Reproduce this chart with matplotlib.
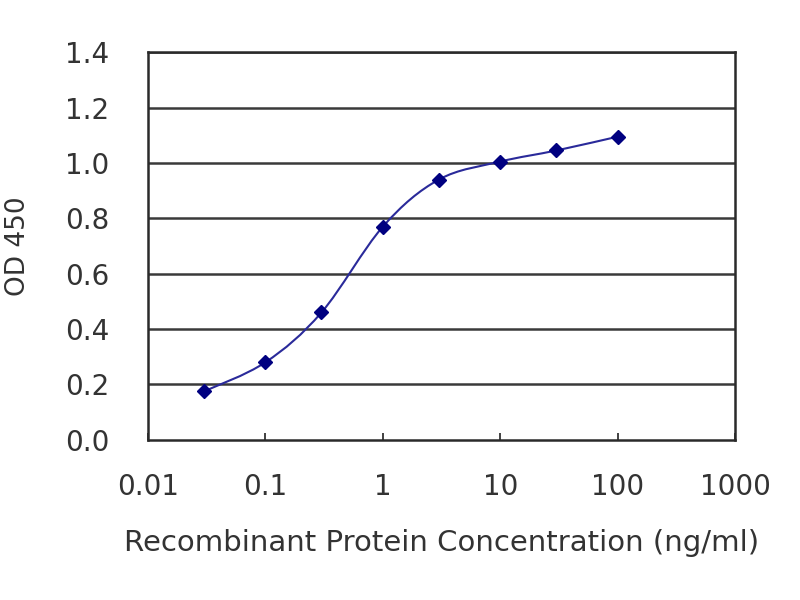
import numpy as np
import matplotlib.pyplot as plt
from matplotlib.path import Path
from matplotlib.patches import PathPatch
from matplotlib.ticker import FixedLocator, FixedFormatter, NullLocator

conc = np.array([0.03, 0.1, 0.3, 1.0, 3.0, 10.0, 30.0, 100.0])
od = np.array([0.175, 0.28, 0.46, 0.77, 0.94, 1.005, 1.045, 1.095])

x_ticks = [0.01, 0.1, 1, 10, 100, 1000]
x_labels = ["0.01", "0.1", "1", "10", "100", "1000"]
y_ticks = [0.0, 0.2, 0.4, 0.6, 0.8, 1.0, 1.2, 1.4]
y_labels = [f"{v:.1f}" for v in y_ticks]

text_col = '#333333'
plt.rcParams['font.family'] = ['DejaVu Sans']


def smooth_path(x, y):
    # catmull-rom through the points (in log x), turned into bezier segments
    lx = np.log10(x)
    p = np.column_stack([lx, y])
    pts = np.vstack([p[0], p, p[-1]])
    verts = [p[0]]
    codes = [Path.MOVETO]
    for i in range(1, len(pts) - 2):
        p0, p1, p2, p3 = pts[i - 1], pts[i], pts[i + 1], pts[i + 2]
        c1 = p1 + (p2 - p0) / 6.0
        c2 = p2 - (p3 - p1) / 6.0
        verts += [c1, c2, p2]
        codes += [Path.CURVE4] * 3
    verts = np.array(verts)
    verts[:, 0] = 10 ** verts[:, 0]
    return Path(verts, codes)


fig = plt.figure(figsize=(8, 6), dpi=100)
ax = fig.add_axes([0.185, 0.267, 0.734, 0.646])

ax.set_xscale('log')
ax.set_xlim(0.01, 1000)
ax.set_ylim(0, 1.4)

for v in y_ticks[1:]:
    ax.axhline(v, color='#3a3a3a', lw=1.8, zorder=1)

ax.add_patch(PathPatch(smooth_path(conc, od), fill=False,
                       edgecolor='#2a2a9a', lw=1.5, zorder=2))
ax.plot(conc, od, linestyle='none', marker='D', ms=7.5,
        color='#000080', zorder=3)

ax.xaxis.set_major_locator(FixedLocator(x_ticks))
ax.xaxis.set_major_formatter(FixedFormatter(x_labels))
ax.xaxis.set_minor_locator(NullLocator())
ax.yaxis.set_major_locator(FixedLocator(y_ticks))
ax.yaxis.set_major_formatter(FixedFormatter(y_labels))

ax.tick_params(axis='x', direction='in', length=5, width=1.3,
               colors='#333333', labelsize=20, pad=24, labelcolor=text_col)
ax.tick_params(axis='y', length=0, labelsize=20, pad=28, labelcolor=text_col)

for s in ax.spines.values():
    s.set_color('#2a2a2a')
    s.set_linewidth(1.8)

ax.set_xlabel("Recombinant Protein Concentration (ng/ml)", fontsize=21,
              color=text_col)
ax.xaxis.set_label_coords(0.5, -0.23)
ax.set_ylabel("OD 450", fontsize=19, color=text_col)
ax.yaxis.set_label_coords(-0.2, 0.5)

fig.savefig("out.png", dpi=100)
